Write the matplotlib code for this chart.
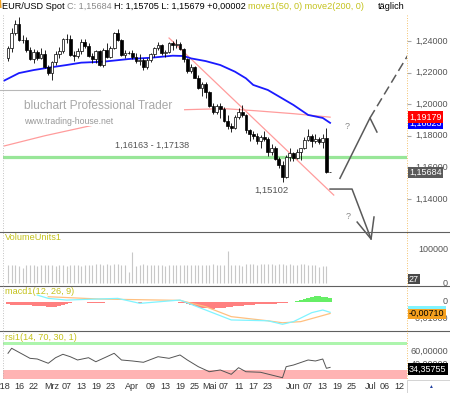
"""EUR/USD daily candles (Feb-Jun 2018) with volume, MACD and RSI panels,
styled after a bluchart Professional Trader screenshot."""

import matplotlib

matplotlib.use("Agg")
import matplotlib.pyplot as plt
import pandas as pd
from matplotlib.patches import Rectangle

W, H = 450, 393
plt.rcParams["font.family"] = ["Liberation Sans", "DejaVu Sans"]

# ---- price data (one candle per business day, 2018-02-13 .. 2018-06-15) ----
FIRST_DAY = "2018-02-13"
opens = [1.2290, 1.2355, 1.2450, 1.2505, 1.2408, 1.2404, 1.2340, 1.2285, 1.2330, 1.2295,
         1.2318, 1.2235, 1.2195, 1.2265, 1.2318, 1.2337, 1.2412, 1.2410, 1.2312, 1.2307,
         1.2336, 1.2392, 1.2370, 1.2305, 1.2288, 1.2335, 1.2245, 1.2340, 1.2300, 1.2355,
         1.2448, 1.2408, 1.2310, 1.2322, 1.2324, 1.2300, 1.2272, 1.2280, 1.2238, 1.2280,
         1.2318, 1.2355, 1.2372, 1.2325, 1.2330, 1.2385, 1.2372, 1.2378, 1.2348, 1.2288,
         1.2212, 1.2234, 1.2168, 1.2102, 1.2130, 1.2075, 1.1990, 1.1952, 1.1990, 1.1970,
         1.1895, 1.1860, 1.1850, 1.1920, 1.1950, 1.1930, 1.1835, 1.1810, 1.1797, 1.1770,
         1.1795, 1.1780, 1.1695, 1.1720, 1.1655, 1.1615, 1.1540, 1.1665, 1.1693, 1.1660,
         1.1695, 1.1720, 1.1773, 1.1800, 1.1770, 1.1780, 1.1762, 1.1786, 1.15682]
highs = [1.2370, 1.2480, 1.2530, 1.2555, 1.2435, 1.2425, 1.2360, 1.2350, 1.2345, 1.2355,
         1.2345, 1.2245, 1.2275, 1.2335, 1.2365, 1.2420, 1.2445, 1.2435, 1.2335, 1.2355,
         1.2410, 1.2415, 1.2385, 1.2325, 1.2345, 1.2340, 1.2355, 1.2390, 1.2370, 1.2455,
         1.2475, 1.2415, 1.2340, 1.2335, 1.2345, 1.2325, 1.2315, 1.2295, 1.2290, 1.2325,
         1.2365, 1.2395, 1.2380, 1.2345, 1.2395, 1.2400, 1.2410, 1.2395, 1.2355, 1.2295,
         1.2255, 1.2240, 1.2185, 1.2140, 1.2140, 1.2085, 1.2010, 1.2000, 1.2005, 1.1980,
         1.1930, 1.1880, 1.1930, 1.1975, 1.1995, 1.1935, 1.1840, 1.1830, 1.1815, 1.1805,
         1.1830, 1.1790, 1.1745, 1.1735, 1.1665, 1.1640, 1.1680, 1.1725, 1.1700, 1.1718,
         1.1725, 1.1795, 1.1840, 1.1810, 1.1810, 1.1795, 1.1810, 1.1852, 1.15705]
lows = [1.2275, 1.2330, 1.2440, 1.2400, 1.2390, 1.2330, 1.2280, 1.2260, 1.2280, 1.2285,
        1.2230, 1.2185, 1.2155, 1.2245, 1.2290, 1.2325, 1.2390, 1.2305, 1.2275, 1.2295,
        1.2320, 1.2355, 1.2300, 1.2260, 1.2260, 1.2240, 1.2235, 1.2290, 1.2290, 1.2350,
        1.2400, 1.2305, 1.2290, 1.2315, 1.2285, 1.2260, 1.2250, 1.2215, 1.2225, 1.2270,
        1.2300, 1.2345, 1.2310, 1.2300, 1.2325, 1.2345, 1.2355, 1.2340, 1.2270, 1.2200,
        1.2195, 1.2165, 1.2095, 1.2055, 1.2040, 1.1980, 1.1940, 1.1940, 1.1910, 1.1885,
        1.1840, 1.1825, 1.1840, 1.1905, 1.1920, 1.1820, 1.1765, 1.1780, 1.1750, 1.1720,
        1.1765, 1.1675, 1.1680, 1.1645, 1.1595, 1.1510, 1.1535, 1.1640, 1.1640, 1.1655,
        1.1645, 1.1715, 1.1765, 1.1730, 1.1755, 1.1745, 1.1725, 1.1562, 1.15679]
closes = [1.2355, 1.2450, 1.2505, 1.2408, 1.2404, 1.2340, 1.2285, 1.2330, 1.2295, 1.2318,
          1.2235, 1.2195, 1.2265, 1.2318, 1.2337, 1.2412, 1.2410, 1.2312, 1.2307, 1.2336,
          1.2392, 1.2370, 1.2305, 1.2288, 1.2335, 1.2245, 1.2340, 1.2300, 1.2355, 1.2448,
          1.2408, 1.2310, 1.2322, 1.2324, 1.2300, 1.2272, 1.2280, 1.2238, 1.2280, 1.2318,
          1.2355, 1.2372, 1.2325, 1.2330, 1.2385, 1.2372, 1.2378, 1.2348, 1.2288, 1.2212,
          1.2234, 1.2168, 1.2102, 1.2130, 1.2075, 1.1990, 1.1952, 1.1990, 1.1970, 1.1895,
          1.1860, 1.1850, 1.1920, 1.1950, 1.1930, 1.1835, 1.1810, 1.1797, 1.1770, 1.1795,
          1.1780, 1.1695, 1.1720, 1.1655, 1.1615, 1.1540, 1.1665, 1.1693, 1.1660, 1.1695,
          1.1720, 1.1773, 1.1800, 1.1770, 1.1780, 1.1762, 1.1786, 1.1568, 1.15684]

# moving averages at a few bars
ma50_idx = [-1, 3, 7, 11, 16, 20, 26, 33, 39, 45, 48, 50, 54, 58, 62, 65, 67, 71, 78, 82, 86, 88]
ma50_val = [1.2150, 1.2197, 1.2216, 1.2231, 1.2248, 1.2263, 1.2269, 1.2286, 1.2294, 1.2307, 1.2305,
            1.2290, 1.2273, 1.2248, 1.2206, 1.2164, 1.2122, 1.2090, 1.1995, 1.1932, 1.1913, 1.1882]
ma200_idx = [-1, 10, 21, 35, 48, 59, 68, 78, 88]
ma200_val = [1.1736, 1.1800, 1.1856, 1.1925, 1.1965, 1.1972, 1.1958, 1.1940, 1.1918]

volumes = [55000, 54000, 56000, 52000, 45000, 54000, 55000, 56000, 53000, 54000,
           55000, 56000, 54000, 52000, 55000, 56000, 53000, 54000, 55000, 56000,
           52000, 55000, 54000, 56000, 57000, 58000, 55000, 57000, 56000, 58000,
           57000, 56000, 54000, 33000, 95000, 52000, 54000, 57000, 56000, 55000,
           56000, 54000, 55000, 53000, 55000, 56000, 54000, 55000, 56000, 55000,
           54000, 56000, 55000, 56000, 55000, 54000, 57000, 55000, 54000, 55000,
           98000, 54000, 55000, 56000, 53000, 57000, 58000, 57000, 56000, 57000,
           58000, 59000, 57000, 56000, 58000, 58000, 56000, 57000, 55000, 56000,
           57000, 57000, 56000, 55000, 56000, 48000, 51000, 52000, 27]

macd_hist = [-0.0015, -0.0018, -0.0019, -0.0021, -0.0020, -0.0019, -0.0021, -0.0023, -0.0024, -0.0026,
             -0.0028, -0.0031, -0.0033, -0.0029, -0.0024, -0.0017, -0.0011, -0.0007, -0.0004, -0.0002,
             0.0000, -0.0002, -0.0006, -0.0008, -0.0009, -0.0008, -0.0006, -0.0004, -0.0003, -0.0002,
             -0.0002, -0.0003, -0.0004, -0.0003, -0.0003, -0.0004, -0.0005, -0.0004, -0.0003, -0.0002,
             -0.0002, -0.0003, -0.0003, -0.0002, -0.0002, -0.0002, -0.0003, -0.0005, -0.0010, -0.0016,
             -0.0022, -0.0027, -0.0031, -0.0035, -0.0038, -0.0040, -0.0041, -0.0040, -0.0038, -0.0035,
             -0.0032, -0.0030, -0.0027, -0.0025, -0.0023, -0.0021, -0.0019, -0.0017, -0.0016, -0.0015,
             -0.0014, -0.0013, -0.0012, -0.0011, -0.0010, -0.0009, -0.0006, -0.0003, 0.0000, 0.0006,
             0.0012, 0.0018, 0.0024, 0.0030, 0.0034, 0.0033, 0.0030, 0.0026, 0.0025]
macd_idx = [8, 11, 16, 30, 36, 47, 54, 61, 71, 75, 78, 83, 86, 88]
macd_val = [0.0040, 0.0020, 0.0010, 0.0020, -0.0010, 0.0010, -0.0050, -0.0110, -0.0115, -0.0136,
            -0.0120, -0.0066, -0.0050, -0.0064]
signal_idx = [11, 25, 47, 54, 61, 71, 75, 80, 88]
signal_val = [0.0030, 0.0016, 0.0008, -0.0030, -0.0090, -0.0115, -0.0127, -0.0120, -0.0071]

rsi_idx = [0, 1, 3, 4, 6, 8, 11, 13, 15, 17, 19, 22, 24, 27, 29, 31, 34, 37, 41, 44, 47, 49, 52,
           55, 58, 61, 63, 65, 69, 72, 75, 76, 78, 82, 84, 86, 87, 88]
rsi_val = [57.1, 65.2, 58.7, 55.5, 49.0, 47.9, 41.0, 50.0, 55.5, 51.6, 46.3, 50.0, 43.5, 51.6, 57.1,
           46.3, 44.7, 42.6, 51.6, 49.0, 54.4, 46.3, 35.5, 27.4, 30.2, 23.2, 33.9, 27.4, 26.5, 22.1,
           17.7, 35.5, 38.2, 46.3, 44.7, 47.9, 32.9, 34.36]

# drawn-in analysis: support zone, falling trend line, two scenarios
support_level = 1.1668
support_text = "1,16163 - 1,17138"
low_text = "1,15102"
trend_idx = [44, 89]
trend_val = [1.2419, 1.1425]
up_path_idx = [90.7, 98.9, 100.8]
up_path_val = [1.1531, 1.1913, 1.1824]
up_dash_idx = [98.9, 112.6]
up_dash_val = [1.1913, 1.2438]
down_path_idx = [88.0, 94.0, 99.2]
down_path_val = [1.1463, 1.1463, 1.1147]
down_wing_idx = [95.4, 99.2, 100.0]
down_wing_val = [1.1254, 1.1147, 1.1286]

price_ticks = [1.14, 1.16, 1.18, 1.20, 1.22, 1.24]
tick_dates = ["2018-02-12", "2018-02-16", "2018-02-22", "2018-03-01", "2018-03-07", "2018-03-13",
              "2018-03-19", "2018-03-23", "2018-04-02", "2018-04-09", "2018-04-13", "2018-04-19",
              "2018-04-25", "2018-05-01", "2018-05-07", "2018-05-11", "2018-05-17", "2018-05-23",
              "2018-06-01", "2018-06-07", "2018-06-13", "2018-06-19", "2018-06-25", "2018-07-02",
              "2018-07-06", "2018-07-12"]
tick_labels = ["'18", "16", "22", "Mrz", "07", "13", "19", "23", "Apr", "09", "13", "19", "25",
               "Mai", "07", "11", "17", "23", "Jun", "07", "13", "19", "25", "Jul", "06", "12"]

OLIVE = "#c4c21c"
TXT = "#555555"


def rect(x0, y0, x1, y1):
    """Pixel box (top-left origin) -> figure fraction rect."""
    return [x0 / W, 1 - y1 / H, (x1 - x0) / W, (y1 - y0) / H]


def de(v, nd=5):
    return f"{v:.{nd}f}".replace(".", ",")


fig = plt.figure(figsize=(W / 100, H / 100), dpi=100)
fig.patch.set_facecolor("white")

XLIM = (-5 / 3.66, 399 / 3.66)
ax = fig.add_axes(rect(3, 15, 407, 231))
ax_vol = fig.add_axes(rect(3, 232, 407, 284))
ax_macd = fig.add_axes(rect(3, 286, 407, 330))
ax_rsi = fig.add_axes(rect(3, 341.5, 407, 378.5))
for a in (ax, ax_vol, ax_macd, ax_rsi):
    a.set_xlim(*XLIM)
    for s in a.spines.values():
        s.set_visible(False)
    a.set_xticks([])
    a.set_yticks([])
    a.patch.set_alpha(0)

# ---- main price panel ----
n = len(closes)
x = list(range(n))
ax.set_ylim(1.11975, 1.25646)
ax.axhline(support_level, color="#98e698", lw=2.3, zorder=1)
ax.text(39.3, 1.1742, support_text, fontsize=6.6, color=TXT, ha="center", va="center")
ax.plot(ma200_idx, ma200_val, color="#ff9c9c", lw=0.9, zorder=2)
ax.plot(trend_idx, trend_val, color="#ff9c9c", lw=0.9, zorder=2)
ax.plot(ma50_idx, ma50_val, color="#1a1aff", lw=1.3, zorder=2)
ax.vlines(x, lows, highs, color="black", lw=0.6, zorder=3)
bottoms = [min(o, c) for o, c in zip(opens, closes)]
heights = [max(abs(c - o), 0.00012) for o, c in zip(opens, closes)]
colors = ["white" if c >= o else "black" for o, c in zip(opens, closes)]
ax.bar(x, heights, bottom=bottoms, width=0.75, color=colors, edgecolor="black", lw=0.5, zorder=4)
ax.text(72, 1.1453, low_text, fontsize=6.8, color=TXT, ha="center", va="center")
ax.text(92.6, 1.1856, "?", fontsize=6.5, color="#888888", ha="center", va="center")
ax.text(92.9, 1.1292, "?", fontsize=6.5, color="#888888", ha="center", va="center")
path_kw = dict(color="#5a5a5a", lw=1.1, zorder=5, clip_on=False)
ax.plot(up_path_idx, up_path_val, **path_kw)
ax.plot(up_dash_idx, up_dash_val, color="#5a5a5a", lw=1.1, ls=(0, (6, 3)), zorder=5)
ax.plot(down_path_idx, down_path_val, **path_kw)
ax.plot(down_wing_idx, down_wing_val, **path_kw)

ax.yaxis.tick_right()
ax.set_yticks(price_ticks)
ax.tick_params(axis="y", length=3, color="#aaaaaa", labelright=False)
yx = ax.get_yaxis_transform()
for p in price_ticks:
    ax.text(1.1015, p, de(p), transform=yx, fontsize=6.5, color=TXT, ha="right", va="center",
            clip_on=False)
box_kw = dict(transform=yx, fontsize=6.5, ha="left", va="center", clip_on=False, zorder=6)
ax.text(1.005, ma50_val[-1] - 0.0005, "1,18823", color="white",
        bbox=dict(boxstyle="square,pad=0.12", fc="#0000ff", ec="none"), **box_kw)
ax.text(1.005, ma200_val[-1] + 0.0001, "1,19179", color="white",
        bbox=dict(boxstyle="square,pad=0.12", fc="#ff0000", ec="none"), **box_kw)
ax.text(1.005, closes[-1], de(closes[-1]), color="white",
        bbox=dict(boxstyle="square,pad=0.12", fc="#5a5a5a", ec="none"), **box_kw)

# ---- volume ----
ax_vol.set_ylim(-3030, 154545)
ax_vol.vlines(x, 0, volumes, color="#c8c8c8", lw=0.8)
vx = ax_vol.get_yaxis_transform()
ax_vol.text(1.1015, 100000, "100000", transform=vx, fontsize=6.5, color=TXT, ha="right",
            va="center", clip_on=False)
ax_vol.text(1.1015, 0, "0", transform=vx, fontsize=6.5, color=TXT, ha="right", va="center",
            clip_on=False)
ax_vol.text(1.005, 12000, f"{volumes[-1]}", transform=vx, fontsize=6.5, color="white",
            ha="left", va="center", clip_on=False,
            bbox=dict(boxstyle="square,pad=0.1", fc="#4a4a4a", ec="none"))

# ---- MACD ----
ax_macd.set_ylim(-0.01705, 0.00946)
hist_colors = ["#66ee66" if v > 0 else "#ff8080" for v in macd_hist]
ax_macd.bar(x, macd_hist, width=1.0, color=hist_colors, lw=0)
ax_macd.plot(signal_idx, signal_val, color="#ffc080", lw=0.9)
ax_macd.plot(macd_idx, macd_val, color="#80f4ff", lw=0.9)
mx = ax_macd.get_yaxis_transform()
ax_macd.text(1.1015, 0, "0", transform=mx, fontsize=6.5, color=TXT, ha="right", va="center",
             clip_on=False)
ax_macd.text(1.1015, -0.0100, "-0,01000", transform=mx, fontsize=6.5, color=TXT, ha="right",
             va="center", clip_on=False)
ax_macd.text(1.005, -0.0071, "-0,00710", transform=mx, fontsize=6.5, color="black",
             ha="left", va="center", clip_on=False, zorder=6,
             bbox=dict(boxstyle="square,pad=0.12", fc="#f5a01e", ec="none"))

# ---- RSI ----
ax_rsi.set_ylim(16.45, 76.13)
ax_rsi.axhspan(70, 100, color="#adf5ad", lw=0)
ax_rsi.axhspan(0, 30, color="#ffb3b3", lw=0)
ax_rsi.plot(rsi_idx, rsi_val, color="#555555", lw=0.7)
rx = ax_rsi.get_yaxis_transform()
for v in (60, 40):
    ax_rsi.text(1.1015, v, de(v), transform=rx, fontsize=6.5, color=TXT, ha="right",
                va="center", clip_on=False)
ax_rsi.text(1.005, rsi_val[-1] - 2.5, "34,35755", transform=rx, fontsize=6.5, color="white",
            ha="left", va="center", clip_on=False, zorder=6,
            bbox=dict(boxstyle="square,pad=0.12", fc="black", ec="none"))

days = pd.bdate_range("2018-02-12", "2018-07-13")
first = days.get_loc(pd.Timestamp(FIRST_DAY))
tick_pos = [days.get_loc(pd.Timestamp(d)) - first for d in tick_dates]
ax_rsi.set_xticks(tick_pos)
ax_rsi.set_xticklabels(tick_labels, fontsize=6.5, color="#333333")
ax_rsi.tick_params(axis="x", length=0, pad=2.5)

# ---- overlay: header, watermark, frame lines ----
ov = fig.add_axes([0, 0, 1, 1], zorder=10)
ov.set_xlim(0, W)
ov.set_ylim(H, 0)
ov.axis("off")
ov.patch.set_alpha(0)

ov.add_patch(Rectangle((22, 99), 162, 27, fc="white", ec="none"))
ov.plot([0, 100], [90, 90], color="#b8b8b8", lw=0.8)
ov.text(24, 106, "bluchart Professional Trader", fontsize=8.6, color="#a8a8a8", va="center")
ov.text(24, 121, "www.trading-house.net", fontsize=6.3, color="#9a9a9a", va="center")

for yy in (231.5, 285.5, 330.5):
    ov.plot([0, W], [yy, yy], color="#606060", lw=0.8)
ov.plot([3, 3], [15, 380], color="#b0b0b0", lw=0.6, ls=(0, (1, 2)))
ov.plot([407, 407], [15, 380], color="#f0b040", lw=0.6, ls=(0, (1, 2)))
ov.plot([0, 0.5], [0, 7], color="#f0a020", lw=1.5)
# cyan sliver of the MACD value box peeking out above the signal box
ov.add_patch(Rectangle((408, 305.5), 38, 3, fc="#80f4ff", ec="none"))
ov.add_patch(Rectangle((407, 380), 43, 13, fc="white", ec="#cccccc", lw=0.6))
ov.text(430, 387, "▲", fontsize=3.5, color="#2040a0", ha="center", va="center")

ov.text(5, 238, "VolumeUnits1", fontsize=6.6, color=OLIVE, va="center")
ov.text(5, 292, "macd1(12, 26, 9)", fontsize=6.6, color=OLIVE, va="center")
ov.text(5, 337, "rsi1(14, 70, 30, 1)", fontsize=6.6, color=OLIVE, va="center")

renderer = fig.canvas.get_renderer()
header = [("EUR/USD Spot", "black"), ("C: 1,15684", "#8a8a8a"),
          ("H: 1,15705 L: 1,15679 +0,00002", "black"), ("move1(50, 0) move2(200, 0)", OLIVE)]
hx = 2
for s, c in header:
    t = ov.text(hx, 6.5, s, fontsize=6.6, color=c, va="center")
    hx += t.get_window_extent(renderer).width + 2.5
ov.text(378, 6.5, "täglich", fontsize=6.6, color="black", va="center")

fig.savefig("out.png", dpi=100)
